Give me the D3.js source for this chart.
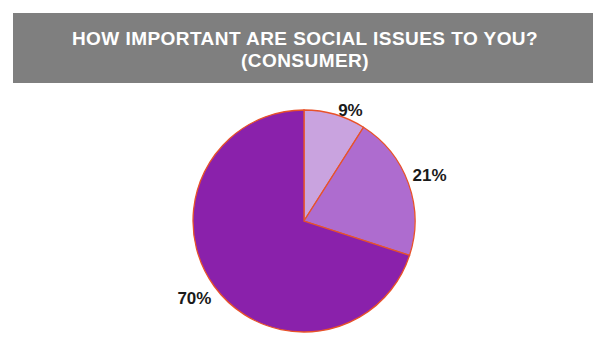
<!DOCTYPE html>
<html>
<head>
<meta charset="utf-8">
<script src="https://cdn.jsdelivr.net/npm/d3@7"></script>
<style>
  html, body { margin: 0; padding: 0; background: #ffffff; }
  svg { display: block; }
</style>
</head>
<body>
<svg id="chart" width="601" height="352"></svg>
<script>
// Survey answers and their shares (percent)
const categories = ["Somewhat important", "Important", "Very important"];
const values = [9, 21, 70];
const labels = ["9%", "21%", "70%"];
const colors = ["#c9a3df", "#ae6ccf", "#8a21ab"];
const titleLines = ["HOW IMPORTANT ARE SOCIAL ISSUES TO YOU?", "(CONSUMER)"];

const svg = d3.select("#chart");

// Title banner
svg.append("rect")
  .attr("x", 13).attr("y", 13)
  .attr("width", 580).attr("height", 70)
  .attr("fill", "#7f7f7f");

svg.append("g")
  .selectAll("text")
  .data(titleLines)
  .join("text")
  .attr("x", 305)
  .attr("y", (d, i) => 45 + i * 22)
  .attr("text-anchor", "middle")
  .attr("fill", "#ffffff")
  .attr("font-family", "Liberation Sans, Arial, sans-serif")
  .attr("font-weight", "bold")
  .attr("font-size", 19)
  .attr("letter-spacing", "0.45px")
  .text(d => d);

// Pie
const cx = 304, cy = 221, r = 111;
const pie = d3.pie().sort(null).value(d => d)(values);
const arc = d3.arc().innerRadius(0).outerRadius(r);

const g = svg.append("g").attr("transform", `translate(${cx},${cy})`);

g.selectAll("path")
  .data(pie)
  .join("path")
  .attr("d", arc)
  .attr("fill", (d, i) => colors[i])
  .attr("stroke", "#e8522a")
  .attr("stroke-width", 1.3);

// Value labels placed just outside the rim, nudged per slice
const labelRadius = [r + 16, r + 16, r + 22];
const labelNudge = [[11, 11], [6, -3], [-2, -1]];
g.selectAll("text")
  .data(pie)
  .join("text")
  .attr("transform", (d, i) => {
    const mid = (d.startAngle + d.endAngle) / 2;
    const x = Math.sin(mid) * labelRadius[i] + labelNudge[i][0];
    const y = -Math.cos(mid) * labelRadius[i] + labelNudge[i][1];
    return `translate(${x},${y})`;
  })
  .attr("text-anchor", "middle")
  .attr("dy", "0.35em")
  .attr("fill", "#1a1a1a")
  .attr("font-family", "Liberation Sans, Arial, sans-serif")
  .attr("font-weight", "bold")
  .attr("font-size", 17)
  .text((d, i) => labels[i]);
</script>
</body>
</html>
